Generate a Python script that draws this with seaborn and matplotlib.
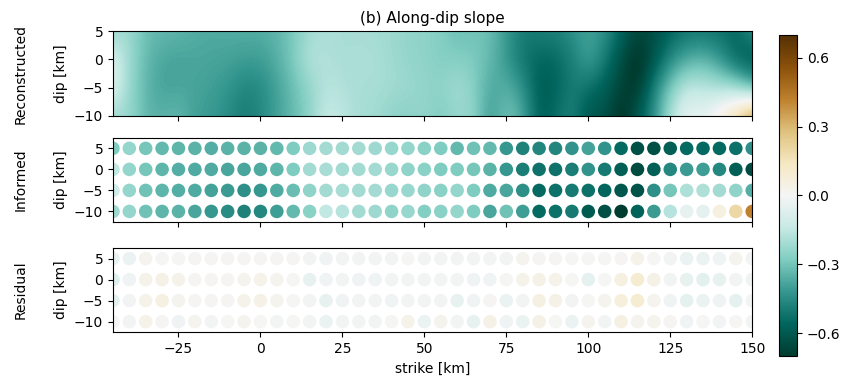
import numpy as np
import pandas as pd
import matplotlib
matplotlib.use("Agg")
import matplotlib.pyplot as plt
import seaborn as sns

# strike positions (km) and dip positions (km)
strike = list(range(-45, 151, 5))
dip = [5, 0, -5, -10]

# informed along-dip slope, one list per dip row
inf_5 = [-0.28, -0.24, -0.30, -0.33, -0.34, -0.35, -0.36, -0.35, -0.35, -0.35,
         -0.33, -0.28, -0.22, -0.21, -0.21, -0.21, -0.22, -0.23, -0.24, -0.26,
         -0.28, -0.33, -0.31, -0.33, -0.42, -0.48, -0.47, -0.47, -0.43, -0.39,
         -0.43, -0.55, -0.63, -0.63, -0.58, -0.55, -0.55, -0.55, -0.53, -0.44]
inf_0 = [-0.15, -0.24, -0.30, -0.34, -0.36, -0.37, -0.37, -0.38, -0.38, -0.37,
         -0.34, -0.28, -0.21, -0.20, -0.21, -0.21, -0.21, -0.23, -0.25, -0.26,
         -0.28, -0.28, -0.30, -0.35, -0.42, -0.49, -0.52, -0.52, -0.49, -0.43,
         -0.50, -0.58, -0.65, -0.58, -0.46, -0.41, -0.40, -0.46, -0.58, -0.64]
inf_m5 = [-0.12, -0.24, -0.31, -0.34, -0.36, -0.37, -0.39, -0.41, -0.44, -0.42,
          -0.37, -0.32, -0.25, -0.21, -0.20, -0.21, -0.21, -0.23, -0.23, -0.25,
          -0.26, -0.24, -0.28, -0.37, -0.38, -0.44, -0.55, -0.53, -0.50, -0.53,
          -0.56, -0.61, -0.62, -0.44, -0.30, -0.19, -0.19, -0.21, -0.25, -0.36]
inf_m10 = [-0.22, -0.24, -0.31, -0.34, -0.35, -0.38, -0.42, -0.45, -0.48, -0.46,
           -0.40, -0.33, -0.26, -0.15, -0.17, -0.21, -0.22, -0.25, -0.23, -0.27,
           -0.26, -0.24, -0.28, -0.38, -0.31, -0.40, -0.55, -0.53, -0.50, -0.60,
           -0.63, -0.70, -0.57, -0.41, -0.17, -0.04, -0.05, 0.06, 0.20, 0.42]

# residual (informed minus reconstructed)
res_5 = [-0.04, -0.03, 0.02, 0.00, 0.00, 0.01, 0.01, 0.01, 0.01, 0.01,
         0.01, 0.01, -0.01, -0.02, -0.01, -0.01, -0.01, -0.01, 0.00, -0.01,
         -0.01, -0.01, -0.01, -0.01, -0.01, 0.02, 0.01, 0.01, 0.00, 0.00,
         0.00, 0.01, 0.03, 0.00, -0.01, -0.03, -0.03, -0.02, 0.02, -0.01]
res_0 = [-0.08, -0.02, 0.03, 0.04, 0.03, 0.01, 0.01, 0.01, 0.02, 0.03,
         0.02, 0.00, -0.04, -0.02, -0.01, -0.02, -0.02, -0.01, -0.01, -0.01,
         -0.01, -0.01, -0.02, -0.02, 0.00, 0.03, 0.04, 0.03, 0.00, -0.05,
         0.00, 0.06, 0.10, 0.04, -0.01, -0.04, -0.06, -0.04, -0.01, -0.02]
res_m5 = [-0.06, -0.01, 0.03, 0.05, 0.02, 0.01, 0.01, 0.01, 0.03, 0.04,
          0.02, 0.00, -0.01, -0.04, -0.02, -0.01, -0.01, -0.02, -0.01, -0.01,
          -0.01, -0.04, -0.02, 0.01, -0.03, -0.01, 0.05, 0.04, -0.01, 0.00,
          0.02, 0.07, 0.10, 0.02, -0.02, -0.05, -0.03, -0.02, -0.05, -0.01]
res_m10 = [0.00, -0.01, 0.03, 0.01, -0.02, 0.02, -0.01, 0.00, 0.02, 0.00,
           -0.01, 0.00, -0.01, -0.03, -0.01, -0.01, -0.01, 0.00, 0.03, -0.03,
           0.02, -0.01, -0.04, 0.04, -0.02, -0.03, 0.04, 0.00, -0.03, 0.02,
           -0.01, 0.05, 0.02, 0.02, 0.01, -0.02, 0.00, -0.01, 0.00, -0.01]

cbar_ticks = [-0.6, -0.3, 0.0, 0.3, 0.6]

sns.set_style("ticks", {"axes.edgecolor": "black", "text.color": "black",
                        "axes.labelcolor": "black", "xtick.color": "black",
                        "ytick.color": "black"})
plt.rcParams["font.family"] = ["DejaVu Sans"]
plt.rcParams["font.size"] = 10

informed = np.array([inf_5, inf_0, inf_m5, inf_m10])
residual = np.array([res_5, res_0, res_m5, res_m10])
recon = informed - residual

df_inf = pd.DataFrame({
    "strike": np.tile(strike, len(dip)),
    "dip": np.repeat(dip, len(strike)),
    "value": informed.ravel(),
})
df_res = df_inf.copy()
df_res["value"] = residual.ravel()

cmap = plt.get_cmap("BrBG_r")
norm = plt.Normalize(-0.7, 0.7)

fig = plt.figure(figsize=(8.49, 3.84), dpi=100)
ax1 = fig.add_axes([0.133, 0.698, 0.753, 0.221])
ax2 = fig.add_axes([0.133, 0.422, 0.753, 0.219], sharex=ax1)
ax3 = fig.add_axes([0.133, 0.135, 0.753, 0.219], sharex=ax1)
cax = fig.add_axes([0.918, 0.073, 0.021, 0.836])

im = ax1.imshow(recon, extent=[-47.5, 152.5, -12.5, 7.5], cmap=cmap, norm=norm,
                interpolation="bicubic", aspect="auto", origin="upper")
ax1.set_xlim(-45, 150)
ax1.set_ylim(-10, 5)
ax1.set_yticks([5, 0, -5, -10])
ax1.tick_params(labelbottom=False)
ax1.set_title("(b) Along-dip slope", fontsize=11)

sns.scatterplot(data=df_inf, x="strike", y="dip", hue="value", palette="BrBG_r",
                hue_norm=(-0.7, 0.7), s=95, linewidth=0, legend=False, ax=ax2)
sns.scatterplot(data=df_res, x="strike", y="dip", hue="value", palette="BrBG_r",
                hue_norm=(-0.7, 0.7), s=95, linewidth=0, legend=False, ax=ax3)

for ax in (ax2, ax3):
    ax.set_ylim(-12.5, 7.5)
    ax.set_yticks([5, 0, -5, -10])
    ax.set_xlim(-45, 150)
ax2.tick_params(labelbottom=False)
ax2.set_xlabel("")

for ax, name in zip((ax1, ax2, ax3), ("Reconstructed", "Informed", "Residual")):
    ax.set_ylabel("dip [km]")
    ax.text(-0.145, 0.5, name, rotation=90, transform=ax.transAxes,
            ha="center", va="center", fontsize=10)

ax3.set_xticks([-25, 0, 25, 50, 75, 100, 125, 150])
ax3.set_xlabel("strike [km]")

cb = fig.colorbar(im, cax=cax, ticks=cbar_ticks)
cb.ax.set_yticklabels(["\u22120.6", "\u22120.3", "0.0", "0.3", "0.6"])

fig.savefig("out.png", dpi=100)
